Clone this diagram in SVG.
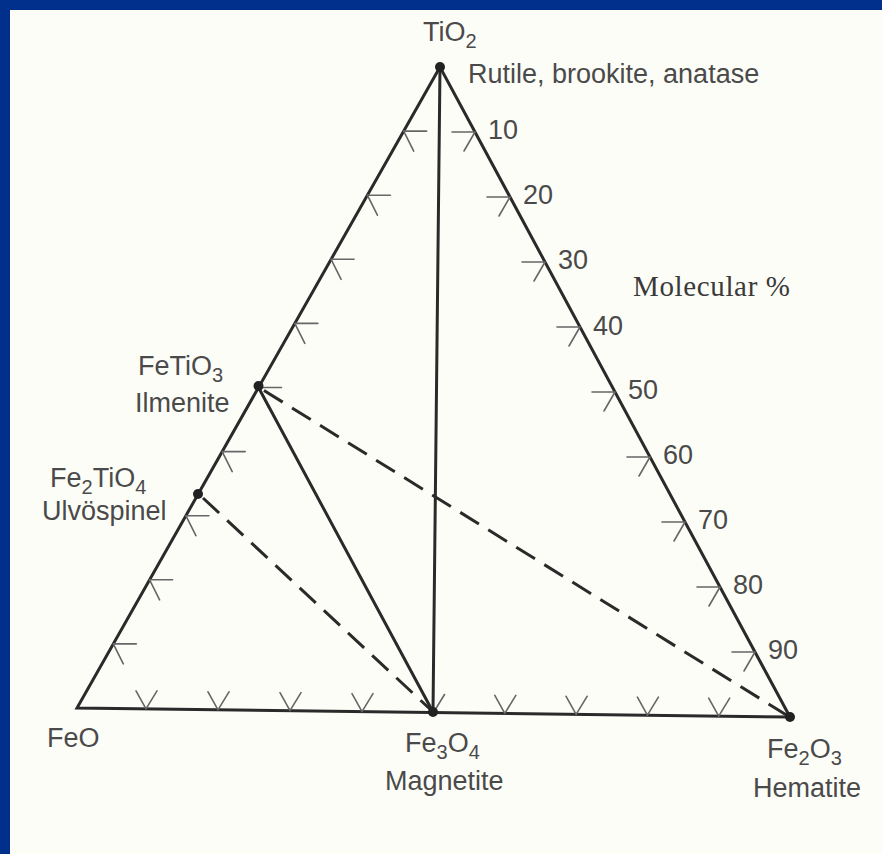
<svg xmlns="http://www.w3.org/2000/svg" width="882" height="854" viewBox="0 0 882 854">
<style>
  .edge { fill: none; stroke: #2a2a2a; stroke-width: 3; stroke-linejoin: miter; stroke-linecap: round; }
  .solid { fill: none; stroke: #2a2a2a; stroke-width: 3; stroke-linecap: round; }
  .dash { fill: none; stroke: #2a2a2a; stroke-width: 3; stroke-dasharray: 22 11; }
  .tick { fill: none; stroke: #666; stroke-width: 1.6; stroke-linecap: round; }
  .dot { fill: #222; }
  .lbl { font-family: "Liberation Sans", Arial, sans-serif; font-size: 27px; fill: #4a4a4a; }
  .sub { font-size: 20px; }
  .serif { font-family: "Liberation Serif", "Times New Roman", serif; font-size: 29px; fill: #3a3a3a; }
</style>
<rect x="0" y="0" width="882" height="854" fill="#00308c"/>
<rect x="10" y="10" width="872" height="844" fill="#fdfdf8"/>

<g id="triangle">
  <polygon class="edge" points="440,67 77,708 790,717"/>
</g>

<g id="ticks">
  <!-- left side ticks -->
  <path class="tick" d="M403.7,131.1 h23 M403.7,131.1 l10,20
    M367.4,195.2 h23 M367.4,195.2 l10,20
    M331.1,259.3 h23 M331.1,259.3 l10,20
    M294.8,323.4 h23 M294.8,323.4 l10,20
    M258.5,387.5 h23 M258.5,387.5 l10,20
    M222.2,451.6 h23 M222.2,451.6 l10,20
    M185.9,515.7 h23 M185.9,515.7 l10,20
    M149.6,579.8 h23 M149.6,579.8 l10,20
    M113.3,643.9 h23 M113.3,643.9 l10,20"/>
  <!-- right side ticks -->
  <path class="tick" d="M475,132 h-23 M475,132 l-11,19
    M510,197 h-23 M510,197 l-11,19
    M545,262 h-23 M545,262 l-11,19
    M580,327 h-23 M580,327 l-11,19
    M615,392 h-23 M615,392 l-11,19
    M650,457 h-23 M650,457 l-11,19
    M685,522 h-23 M685,522 l-11,19
    M720,587 h-23 M720,587 l-11,19
    M755,652 h-23 M755,652 l-11,19"/>
  <!-- base ticks -->
  <path class="tick" d="M146,708.9 l-10,-18 M146,708.9 l11,-18
    M218,709.8 l-10,-18 M218,709.8 l11,-18
    M290,710.7 l-10,-18 M290,710.7 l11,-18
    M362,711.6 l-10,-18 M362,711.6 l11,-18
    M433.5,712.5 l-10,-18 M433.5,712.5 l11,-18
    M504.8,713.4 l-10,-18 M504.8,713.4 l11,-18
    M576.1,714.3 l-10,-18 M576.1,714.3 l11,-18
    M647.4,715.2 l-10,-18 M647.4,715.2 l11,-18
    M718.7,716.1 l-10,-18 M718.7,716.1 l11,-18"/>
</g>

<g id="connectors">
  <line class="solid" x1="440" y1="67" x2="433" y2="712"/>
  <line class="solid" x1="258.5" y1="387.5" x2="433" y2="712"/>
  <line class="dash" x1="264" y1="390.5" x2="788" y2="716"/>
  <line class="dash" x1="203" y1="498" x2="431" y2="710"/>
</g>

<g id="scale-labels" class="lbl">
  <text x="488" y="139">10</text>
  <text x="523" y="204">20</text>
  <text x="558" y="269">30</text>
  <text x="593" y="335">40</text>
  <text x="628" y="399">50</text>
  <text x="663" y="464">60</text>
  <text x="698" y="529">70</text>
  <text x="733" y="594">80</text>
  <text x="768" y="659">90</text>
  <text class="serif" x="633" y="296" textLength="157" lengthAdjust="spacing">Molecular %</text>
</g>

<g id="node-TiO2">
  <circle class="dot" cx="440" cy="67" r="5"/>
  <text class="lbl" x="423" y="41">TiO<tspan class="sub" dy="7">2</tspan></text>
  <text class="lbl" x="468" y="83">Rutile, brookite, anatase</text>
</g>

<g id="node-FeTiO3">
  <circle class="dot" cx="258.5" cy="386" r="5"/>
  <text class="lbl" x="138" y="375">FeTiO<tspan class="sub" dy="7">3</tspan></text>
  <text class="lbl" x="135" y="412">Ilmenite</text>
</g>

<g id="node-Fe2TiO4">
  <circle class="dot" cx="198" cy="494" r="5"/>
  <text class="lbl" x="50" y="487">Fe<tspan class="sub" dy="7">2</tspan><tspan dy="-7">TiO</tspan><tspan class="sub" dy="7">4</tspan></text>
  <text class="lbl" x="42" y="520">Ulvöspinel</text>
</g>

<g id="node-FeO">
  <text class="lbl" x="47" y="747">FeO</text>
</g>

<g id="node-Fe3O4">
  <circle class="dot" cx="433" cy="712" r="5"/>
  <text class="lbl" x="405" y="752">Fe<tspan class="sub" dy="7">3</tspan><tspan dy="-7">O</tspan><tspan class="sub" dy="7">4</tspan></text>
  <text class="lbl" x="385" y="790">Magnetite</text>
</g>

<g id="node-Fe2O3">
  <circle class="dot" cx="790" cy="717" r="5"/>
  <text class="lbl" x="767" y="758">Fe<tspan class="sub" dy="7">2</tspan><tspan dy="-7">O</tspan><tspan class="sub" dy="7">3</tspan></text>
  <text class="lbl" x="753" y="797">Hematite</text>
</g>
</svg>
